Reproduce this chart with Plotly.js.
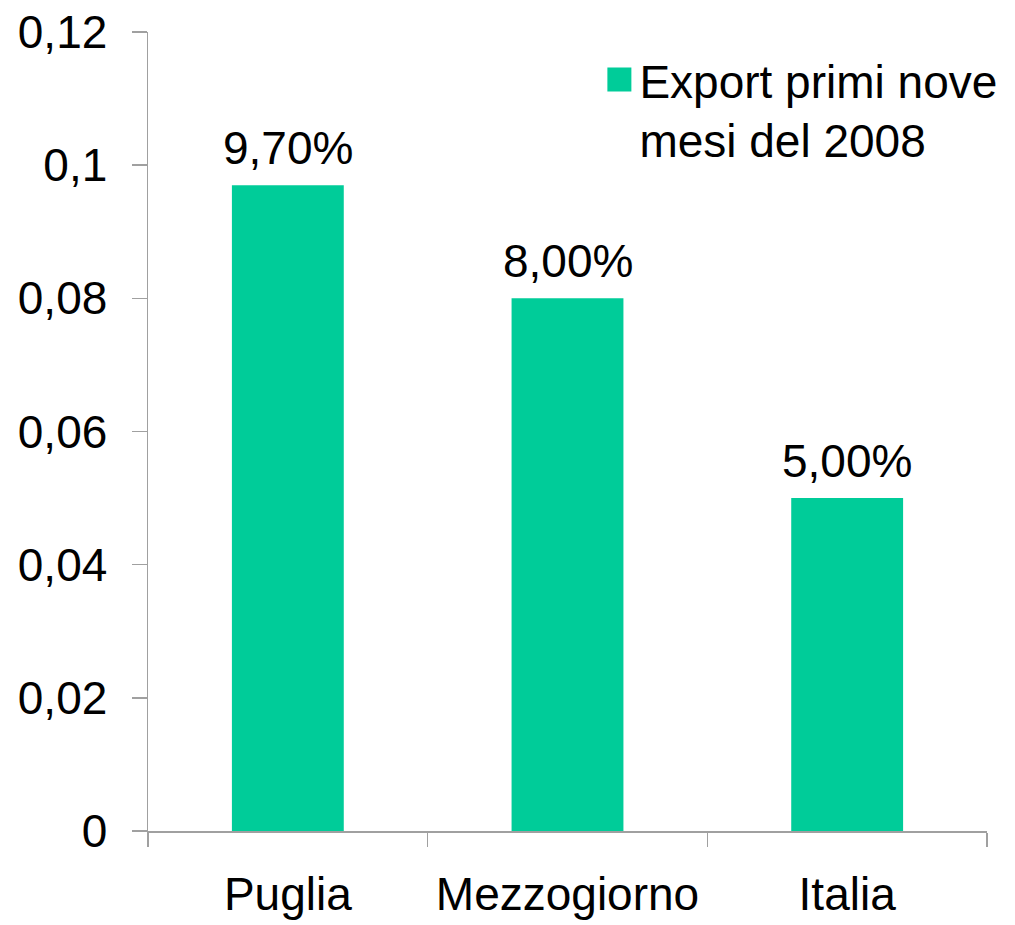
<!DOCTYPE html>
<html>
<head>
<meta charset="utf-8">
<script src="https://cdn.plot.ly/plotly-3.0.1.min.js"></script>
<style>html,body{margin:0;padding:0;background:#fff;}#chart{width:1015px;height:925px;}</style>
</head>
<body>
<div id="chart"></div>
<script>
var categories = ["Puglia", "Mezzogiorno", "Italia"];
var exportValues = [0.097, 0.08, 0.05];
var valueLabels = ["9,70%", "8,00%", "5,00%"];
var seriesName = "Export primi nove<br>mesi del 2008";
var yTickValues = [0, 0.02, 0.04, 0.06, 0.08, 0.1, 0.12];

var font = "Liberation Sans, Arial, sans-serif";
var axisColor = "#a0a0a0";

var trace = {
  type: "bar",
  x: categories,
  y: exportValues,
  name: seriesName,
  marker: {color: "#00CC99"},
  hoverinfo: "none"
};

var annotations = categories.map(function(c, i){
  return {
    x: c, y: exportValues[i], xref: "x", yref: "y",
    text: valueLabels[i], showarrow: false,
    xanchor: "center", yanchor: "bottom", yshift: 9,
    font: {family: font, size: 46, color: "#000"}
  };
});

var layout = {
  width: 1015,
  height: 925,
  margin: {l: 148, r: 28, t: 32, b: 94, pad: 0},
  paper_bgcolor: "#fff",
  plot_bgcolor: "#fff",
  separators: ",.",
  bargap: 0.6,
  showlegend: true,
  font: {family: font, size: 46, color: "#000"},
  annotations: annotations,
  legend: {
    x: 0.538, y: 0.986, xanchor: "left", yanchor: "top",
    bgcolor: "rgba(0,0,0,0)",
    font: {family: font, size: 46, color: "#000"},
    valign: "top"
  },
  xaxis: {
    type: "category",
    showline: true, linecolor: axisColor, linewidth: 1.5,
    ticks: "outside", tickson: "boundaries", ticklen: 14, tickcolor: axisColor, tickwidth: 1.5,
    ticklabelstandoff: 22,
    showgrid: false, zeroline: false,
    tickfont: {family: font, size: 46, color: "#000"}
  },
  yaxis: {
    range: [0, 0.12],
    tickvals: yTickValues,
    showline: true, linecolor: axisColor, linewidth: 1.5,
    ticks: "outside", ticklen: 15, tickcolor: axisColor, tickwidth: 1.5,
    ticklabelstandoff: 15,
    showgrid: false, zeroline: false,
    tickfont: {family: font, size: 46, color: "#000"}
  }
};

Plotly.newPlot("chart", [trace], layout, {staticPlot: true}).then(function(){
  var pts = document.querySelectorAll(".legendpoints path");
  pts.forEach(function(p){ p.setAttribute("transform", (p.getAttribute("transform")||"") + " scale(2)"); });
});
</script>
</body>
</html>
